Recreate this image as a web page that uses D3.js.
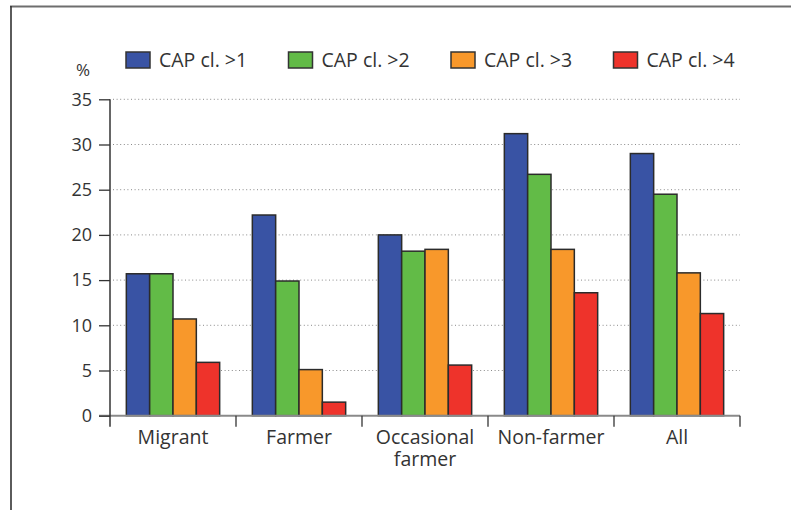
<!DOCTYPE html>
<html>
<head>
<meta charset="utf-8">
<script src="https://cdn.jsdelivr.net/npm/d3@7"></script>
<style>
  html, body { margin: 0; padding: 0; background: #fff; }
  svg { display: block; font-family: "Open Sans", "Noto Sans", sans-serif; }
</style>
</head>
<body>
<svg id="chart" width="791" height="510"></svg>
<script>
// ---- data ----
const categories = ["Migrant", "Farmer", "Occasional farmer", "Non-farmer", "All"];
const categoryLabelLines = [["Migrant"], ["Farmer"], ["Occasional", "farmer"], ["Non-farmer"], ["All"]];
const seriesNames = ["CAP cl. >1", "CAP cl. >2", "CAP cl. >3", "CAP cl. >4"];
const capGt1 = [15.7, 22.2, 20.0, 31.2, 29.0];
const capGt2 = [15.7, 14.9, 18.2, 26.7, 24.5];
const capGt3 = [10.7, 5.1, 18.4, 18.4, 15.8];
const capGt4 = [5.9, 1.5, 5.6, 13.6, 11.3];
const yTicks = [0, 5, 10, 15, 20, 25, 30, 35];
const yAxisLabel = "%";
const colors = ["#3953a4", "#62bb47", "#f8982b", "#ee332b"];

const seriesValues = [capGt1, capGt2, capGt3, capGt4];

// ---- layout ----
const svg = d3.select("#chart");
const plotLeft = 110, plotRight = 740, plotTop = 99.3, plotBottom = 415.7;

const y = d3.scaleLinear().domain([0, 35]).range([plotBottom, plotTop]);
const x0 = d3.scaleBand().domain(categories).range([plotLeft, plotRight]).padding(0);
const x1 = d3.scaleBand().domain(seriesNames).range([0, x0.bandwidth()]).paddingInner(0).paddingOuter(0.7);

// frame
svg.append("line").attr("x1", 10).attr("x2", 791).attr("y1", 6.5).attr("y2", 6.5)
  .attr("stroke", "#6e6e6e").attr("stroke-width", 2);
svg.append("line").attr("x1", 11).attr("x2", 11).attr("y1", 6).attr("y2", 510)
  .attr("stroke", "#333").attr("stroke-width", 1.6);

// gridlines
svg.append("g").selectAll("line").data(yTicks.filter(d => d > 0)).join("line")
  .attr("x1", 113).attr("x2", plotRight)
  .attr("y1", d => y(d)).attr("y2", d => y(d))
  .attr("stroke", "#8a8a8a").attr("stroke-width", 1)
  .attr("stroke-dasharray", "1,2.6");

// bars
const barData = [];
categories.forEach((c, ci) => {
  seriesNames.forEach((s, si) => {
    barData.push({ c, s, si, v: seriesValues[si][ci] });
  });
});
svg.append("g").selectAll("rect").data(barData).join("rect")
  .attr("x", d => x0(d.c) + x1(d.s))
  .attr("y", d => y(d.v))
  .attr("width", x1.bandwidth())
  .attr("height", d => y(0) - y(d.v))
  .attr("fill", d => colors[d.si])
  .attr("stroke", "#2b2b2b").attr("stroke-width", 1.5);

// baseline
svg.append("line").attr("x1", 99).attr("x2", plotRight)
  .attr("y1", y(0)).attr("y2", y(0))
  .attr("stroke", "#8a8a8a").attr("stroke-width", 2);

// y axis
const yAxis = d3.axisLeft(y).tickValues(yTicks).tickSize(11).tickSizeOuter(0).tickPadding(7);
const yg = svg.append("g").attr("transform", `translate(${plotLeft},0)`).call(yAxis);
yg.select(".domain").remove();
yg.selectAll(".tick line").attr("stroke", "#333").attr("stroke-width", 1.3);
yg.selectAll(".tick text").attr("font-size", 18).attr("fill", "#333")
  .attr("font-family", "'Open Sans', sans-serif");
svg.append("line").attr("x1", plotLeft).attr("x2", plotLeft)
  .attr("y1", plotTop).attr("y2", plotBottom + 11)
  .attr("stroke", "#333").attr("stroke-width", 1.5);

// x category boundary ticks
const boundaries = categories.map(c => x0(c) + x0.bandwidth());
svg.append("g").selectAll("line").data(boundaries).join("line")
  .attr("x1", d => d).attr("x2", d => d)
  .attr("y1", plotBottom).attr("y2", plotBottom + 11)
  .attr("stroke", "#333").attr("stroke-width", 1.3);

// x labels
const xl = svg.append("g").selectAll("text").data(categories).join("text")
  .attr("x", c => x0(c) + x0.bandwidth() / 2)
  .attr("y", 444)
  .attr("text-anchor", "middle")
  .attr("font-size", 19.5).attr("fill", "#333");
xl.each(function(c, i) {
  const t = d3.select(this);
  categoryLabelLines[i].forEach((line, li) => {
    t.append("tspan").attr("x", x0(c) + x0.bandwidth() / 2).attr("dy", li === 0 ? 0 : 22).text(line);
  });
});

// % label
svg.append("text").attr("x", 83).attr("y", 76).attr("text-anchor", "middle")
  .attr("font-size", 17).attr("fill", "#333").text(yAxisLabel);

// legend
const legend = svg.append("g").selectAll("g").data(seriesNames).join("g")
  .attr("transform", (d, i) => `translate(${126 + i * 162.5},52)`);
legend.append("rect").attr("width", 24).attr("height", 16)
  .attr("fill", (d, i) => colors[i]).attr("stroke", "#333").attr("stroke-width", 1.5);
legend.append("text").attr("x", 33).attr("y", 14.5)
  .attr("font-size", 19.5).attr("fill", "#333").text(d => d);
</script>
</body>
</html>
